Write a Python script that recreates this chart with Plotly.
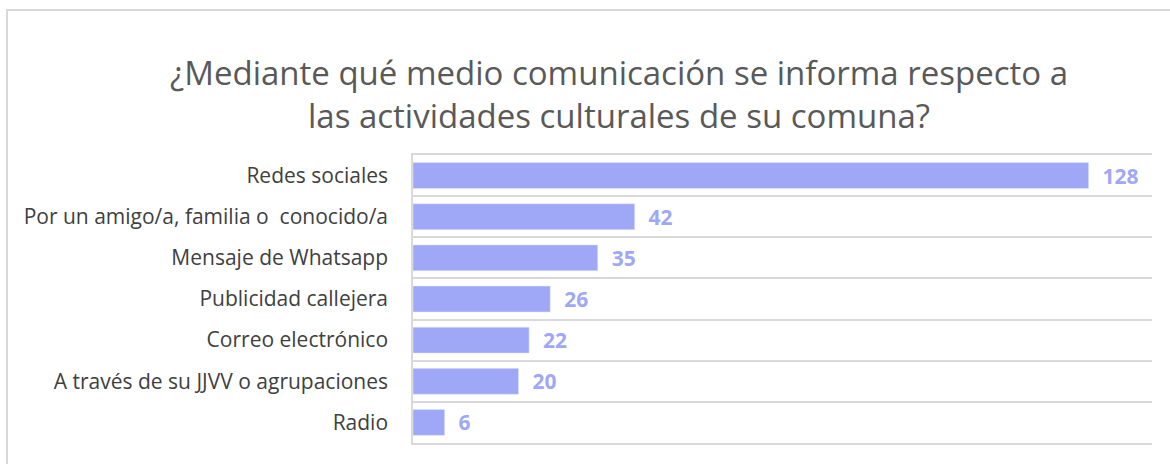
import plotly.graph_objects as go

categories = [
    "Redes sociales",
    "Por un amigo/a, familia o  conocido/a",
    "Mensaje de Whatsapp",
    "Publicidad callejera",
    "Correo electrónico",
    "A través de su JJVV o agrupaciones",
    "Radio",
]
values = [128, 42, 35, 26, 22, 20, 6]
title_text = "¿Mediante qué medio comunicación se informa respecto a<br>las actividades culturales de su comuna?"

bar_color = "#9FA8F7"
W, H = 1170, 464
ML, MR, MT, MB = 413, 18, 155, 21
PW, PH = W - ML - MR, H - MT - MB

fig = go.Figure(
    go.Bar(
        x=values,
        y=categories,
        orientation="h",
        marker=dict(color=bar_color),
        width=0.63,
        text=values,
        texttemplate="  %{x}",
        textposition="outside",
        constraintext="none",
        cliponaxis=False,
        textfont=dict(family="Open Sans", size=21, color=bar_color, weight="bold"),
        hoverinfo="skip",
    )
)

fig.update_layout(
    width=W,
    height=H,
    margin=dict(l=ML, r=MR, t=MT, b=MB, autoexpand=False),
    paper_bgcolor="white",
    plot_bgcolor="white",
    showlegend=False,
    title=dict(
        text=title_text,
        x=619 / W,
        xanchor="center",
        xref="container",
        y=1 - 85 / H,
        yanchor="top",
        yref="container",
        font=dict(family="Open Sans", size=33, color="#595959"),
    ),
    xaxis=dict(
        range=[0, 140],
        showgrid=False,
        showticklabels=False,
        zeroline=False,
        showline=True,
        mirror=True,
        linecolor="#D9D9D9",
        linewidth=1.5,
        ticks="",
        fixedrange=True,
    ),
    yaxis=dict(
        type="category",
        categoryorder="array",
        categoryarray=categories,
        autorange="reversed",
        tickson="boundaries",
        showgrid=True,
        gridcolor="#D9D9D9",
        gridwidth=1.5,
        showline=True,
        linecolor="#D9D9D9",
        linewidth=1.5,
        ticks="",
        ticklen=0,
        automargin=False,
        tickfont=dict(family="Open Sans", size=21, color="#404040"),
        ticklabelstandoff=19,
        fixedrange=True,
    ),
    shapes=[
        dict(
            type="rect",
            xref="paper",
            yref="paper",
            x0=-(ML - 7) / PW,
            x1=1 + 40 / PW,
            y0=-60 / PH,
            y1=1 + (MT - 10) / PH,
            line=dict(color="#D9D9D9", width=2),
            fillcolor="rgba(0,0,0,0)",
            layer="below",
        )
    ],
)

fig.write_html(
    "out.html",
    config={"displayModeBar": False},
    post_script="document.body.style.margin='0';",
)
